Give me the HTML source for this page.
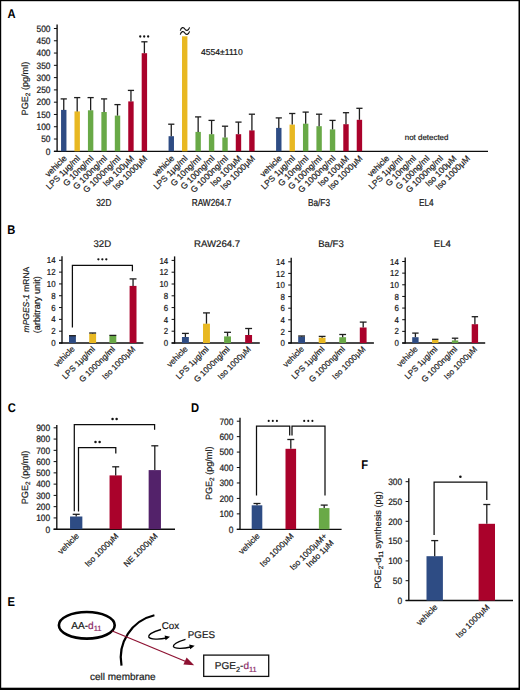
<!DOCTYPE html>
<html><head><meta charset="utf-8"><style>
html,body{margin:0;padding:0;background:#fff;}
svg{display:block;font-family:"Liberation Sans", sans-serif;text-rendering:geometricPrecision;}
</style></head><body>
<svg width="520" height="690" viewBox="0 0 520 690">
<rect x="0" y="0" width="520" height="690" fill="#fff"/>
<text transform="translate(7.60 17.50) scale(1 1.13)" font-size="11.2" font-weight="bold" fill="#000">A</text>
<line x1="57.10" y1="24.60" x2="57.10" y2="151.90" stroke="#0d0d0d" stroke-width="1.35"/>
<line x1="53.90" y1="151.30" x2="57.10" y2="151.30" stroke="#0d0d0d" stroke-width="1.0"/>
<text transform="translate(50.50 154.61) scale(1.0 1.1)" font-size="8.4" text-anchor="end" font-weight="normal" fill="#1a1a1a" stroke="#1a1a1a" stroke-width="0.2">0</text>
<line x1="53.90" y1="139.02" x2="57.10" y2="139.02" stroke="#0d0d0d" stroke-width="1.0"/>
<text transform="translate(50.50 142.33) scale(1.0 1.1)" font-size="8.4" text-anchor="end" font-weight="normal" fill="#1a1a1a" stroke="#1a1a1a" stroke-width="0.2">50</text>
<line x1="53.90" y1="126.74" x2="57.10" y2="126.74" stroke="#0d0d0d" stroke-width="1.0"/>
<text transform="translate(50.50 130.05) scale(1.0 1.1)" font-size="8.4" text-anchor="end" font-weight="normal" fill="#1a1a1a" stroke="#1a1a1a" stroke-width="0.2">100</text>
<line x1="53.90" y1="114.46" x2="57.10" y2="114.46" stroke="#0d0d0d" stroke-width="1.0"/>
<text transform="translate(50.50 117.77) scale(1.0 1.1)" font-size="8.4" text-anchor="end" font-weight="normal" fill="#1a1a1a" stroke="#1a1a1a" stroke-width="0.2">150</text>
<line x1="53.90" y1="102.18" x2="57.10" y2="102.18" stroke="#0d0d0d" stroke-width="1.0"/>
<text transform="translate(50.50 105.49) scale(1.0 1.1)" font-size="8.4" text-anchor="end" font-weight="normal" fill="#1a1a1a" stroke="#1a1a1a" stroke-width="0.2">200</text>
<line x1="53.90" y1="89.90" x2="57.10" y2="89.90" stroke="#0d0d0d" stroke-width="1.0"/>
<text transform="translate(50.50 93.21) scale(1.0 1.1)" font-size="8.4" text-anchor="end" font-weight="normal" fill="#1a1a1a" stroke="#1a1a1a" stroke-width="0.2">250</text>
<line x1="53.90" y1="77.62" x2="57.10" y2="77.62" stroke="#0d0d0d" stroke-width="1.0"/>
<text transform="translate(50.50 80.93) scale(1.0 1.1)" font-size="8.4" text-anchor="end" font-weight="normal" fill="#1a1a1a" stroke="#1a1a1a" stroke-width="0.2">300</text>
<line x1="53.90" y1="65.34" x2="57.10" y2="65.34" stroke="#0d0d0d" stroke-width="1.0"/>
<text transform="translate(50.50 68.65) scale(1.0 1.1)" font-size="8.4" text-anchor="end" font-weight="normal" fill="#1a1a1a" stroke="#1a1a1a" stroke-width="0.2">350</text>
<line x1="53.90" y1="53.06" x2="57.10" y2="53.06" stroke="#0d0d0d" stroke-width="1.0"/>
<text transform="translate(50.50 56.37) scale(1.0 1.1)" font-size="8.4" text-anchor="end" font-weight="normal" fill="#1a1a1a" stroke="#1a1a1a" stroke-width="0.2">400</text>
<line x1="53.90" y1="40.78" x2="57.10" y2="40.78" stroke="#0d0d0d" stroke-width="1.0"/>
<text transform="translate(50.50 44.09) scale(1.0 1.1)" font-size="8.4" text-anchor="end" font-weight="normal" fill="#1a1a1a" stroke="#1a1a1a" stroke-width="0.2">450</text>
<line x1="53.90" y1="28.50" x2="57.10" y2="28.50" stroke="#0d0d0d" stroke-width="1.0"/>
<text transform="translate(50.50 31.81) scale(1.0 1.1)" font-size="8.4" text-anchor="end" font-weight="normal" fill="#1a1a1a" stroke="#1a1a1a" stroke-width="0.2">500</text>
<line x1="53.90" y1="151.30" x2="488.00" y2="151.30" stroke="#0d0d0d" stroke-width="1.35"/>
<text x="27.60" y="88.60" font-size="9.1" text-anchor="middle" font-weight="normal" fill="#1a1a1a" stroke="#1a1a1a" stroke-width="0.2" transform="rotate(-90 27.60 88.60)">PGE<tspan font-size="6.4" dy="2">2</tspan><tspan dy="-2"> (pg/ml)</tspan></text>
<rect x="61.05" y="109.90" width="5.40" height="41.40" fill="#2e4c84"/>
<line x1="63.75" y1="109.90" x2="63.75" y2="98.90" stroke="#1e1e1e" stroke-width="1.3"/>
<line x1="60.65" y1="98.90" x2="66.85" y2="98.90" stroke="#1e1e1e" stroke-width="1.3"/>
<text x="67.25" y="158.90" font-size="8.5" text-anchor="end" font-weight="normal" fill="#1a1a1a" stroke="#1a1a1a" stroke-width="0.2" transform="rotate(-45 67.25 158.90)">vehicle</text>
<rect x="74.49" y="111.40" width="5.40" height="39.90" fill="#e8b822"/>
<line x1="77.19" y1="111.40" x2="77.19" y2="97.60" stroke="#1e1e1e" stroke-width="1.3"/>
<line x1="74.09" y1="97.60" x2="80.29" y2="97.60" stroke="#1e1e1e" stroke-width="1.3"/>
<text x="80.69" y="158.90" font-size="8.5" text-anchor="end" font-weight="normal" fill="#1a1a1a" stroke="#1a1a1a" stroke-width="0.2" transform="rotate(-45 80.69 158.90)">LPS 1&#956;g/ml</text>
<rect x="87.93" y="110.30" width="5.40" height="41.00" fill="#69a947"/>
<line x1="90.63" y1="110.30" x2="90.63" y2="97.60" stroke="#1e1e1e" stroke-width="1.3"/>
<line x1="87.53" y1="97.60" x2="93.73" y2="97.60" stroke="#1e1e1e" stroke-width="1.3"/>
<text x="94.13" y="158.90" font-size="8.5" text-anchor="end" font-weight="normal" fill="#1a1a1a" stroke="#1a1a1a" stroke-width="0.2" transform="rotate(-45 94.13 158.90)">G 10ng/ml</text>
<rect x="101.37" y="112.00" width="5.40" height="39.30" fill="#69a947"/>
<line x1="104.07" y1="112.00" x2="104.07" y2="98.90" stroke="#1e1e1e" stroke-width="1.3"/>
<line x1="100.97" y1="98.90" x2="107.17" y2="98.90" stroke="#1e1e1e" stroke-width="1.3"/>
<text x="107.57" y="158.90" font-size="8.5" text-anchor="end" font-weight="normal" fill="#1a1a1a" stroke="#1a1a1a" stroke-width="0.2" transform="rotate(-45 107.57 158.90)">G 100ng/ml</text>
<rect x="114.81" y="115.60" width="5.40" height="35.70" fill="#69a947"/>
<line x1="117.51" y1="115.60" x2="117.51" y2="104.60" stroke="#1e1e1e" stroke-width="1.3"/>
<line x1="114.41" y1="104.60" x2="120.61" y2="104.60" stroke="#1e1e1e" stroke-width="1.3"/>
<text x="121.01" y="158.90" font-size="8.5" text-anchor="end" font-weight="normal" fill="#1a1a1a" stroke="#1a1a1a" stroke-width="0.2" transform="rotate(-45 121.01 158.90)">G 1000ng/ml</text>
<rect x="128.25" y="101.40" width="5.40" height="49.90" fill="#aa022b"/>
<line x1="130.95" y1="101.40" x2="130.95" y2="90.40" stroke="#1e1e1e" stroke-width="1.3"/>
<line x1="127.85" y1="90.40" x2="134.05" y2="90.40" stroke="#1e1e1e" stroke-width="1.3"/>
<text x="134.45" y="158.90" font-size="8.5" text-anchor="end" font-weight="normal" fill="#1a1a1a" stroke="#1a1a1a" stroke-width="0.2" transform="rotate(-45 134.45 158.90)">Iso 100&#956;M</text>
<rect x="141.69" y="53.20" width="5.40" height="98.10" fill="#aa022b"/>
<line x1="144.39" y1="53.20" x2="144.39" y2="41.80" stroke="#1e1e1e" stroke-width="1.3"/>
<line x1="141.29" y1="41.80" x2="147.49" y2="41.80" stroke="#1e1e1e" stroke-width="1.3"/>
<text x="147.89" y="158.90" font-size="8.5" text-anchor="end" font-weight="normal" fill="#1a1a1a" stroke="#1a1a1a" stroke-width="0.2" transform="rotate(-45 147.89 158.90)">Iso 1000&#956;M</text>
<rect x="168.57" y="136.20" width="5.40" height="15.10" fill="#2e4c84"/>
<line x1="171.27" y1="136.20" x2="171.27" y2="124.20" stroke="#1e1e1e" stroke-width="1.3"/>
<line x1="168.17" y1="124.20" x2="174.37" y2="124.20" stroke="#1e1e1e" stroke-width="1.3"/>
<text x="174.77" y="158.90" font-size="8.5" text-anchor="end" font-weight="normal" fill="#1a1a1a" stroke="#1a1a1a" stroke-width="0.2" transform="rotate(-45 174.77 158.90)">vehicle</text>
<rect x="182.01" y="36.30" width="5.40" height="115.00" fill="#e8b822"/>
<text x="188.21" y="158.90" font-size="8.5" text-anchor="end" font-weight="normal" fill="#1a1a1a" stroke="#1a1a1a" stroke-width="0.2" transform="rotate(-45 188.21 158.90)">LPS 1&#956;g/ml</text>
<rect x="195.45" y="131.90" width="5.40" height="19.40" fill="#69a947"/>
<line x1="198.15" y1="131.90" x2="198.15" y2="116.90" stroke="#1e1e1e" stroke-width="1.3"/>
<line x1="195.05" y1="116.90" x2="201.25" y2="116.90" stroke="#1e1e1e" stroke-width="1.3"/>
<text x="201.65" y="158.90" font-size="8.5" text-anchor="end" font-weight="normal" fill="#1a1a1a" stroke="#1a1a1a" stroke-width="0.2" transform="rotate(-45 201.65 158.90)">G 10ng/ml</text>
<rect x="208.89" y="134.20" width="5.40" height="17.10" fill="#69a947"/>
<line x1="211.59" y1="134.20" x2="211.59" y2="120.40" stroke="#1e1e1e" stroke-width="1.3"/>
<line x1="208.49" y1="120.40" x2="214.69" y2="120.40" stroke="#1e1e1e" stroke-width="1.3"/>
<text x="215.09" y="158.90" font-size="8.5" text-anchor="end" font-weight="normal" fill="#1a1a1a" stroke="#1a1a1a" stroke-width="0.2" transform="rotate(-45 215.09 158.90)">G 100ng/ml</text>
<rect x="222.33" y="137.50" width="5.40" height="13.80" fill="#69a947"/>
<line x1="225.03" y1="137.50" x2="225.03" y2="126.20" stroke="#1e1e1e" stroke-width="1.3"/>
<line x1="221.93" y1="126.20" x2="228.13" y2="126.20" stroke="#1e1e1e" stroke-width="1.3"/>
<text x="228.53" y="158.90" font-size="8.5" text-anchor="end" font-weight="normal" fill="#1a1a1a" stroke="#1a1a1a" stroke-width="0.2" transform="rotate(-45 228.53 158.90)">G 1000ng/ml</text>
<rect x="235.77" y="134.20" width="5.40" height="17.10" fill="#aa022b"/>
<line x1="238.47" y1="134.20" x2="238.47" y2="122.10" stroke="#1e1e1e" stroke-width="1.3"/>
<line x1="235.37" y1="122.10" x2="241.57" y2="122.10" stroke="#1e1e1e" stroke-width="1.3"/>
<text x="241.97" y="158.90" font-size="8.5" text-anchor="end" font-weight="normal" fill="#1a1a1a" stroke="#1a1a1a" stroke-width="0.2" transform="rotate(-45 241.97 158.90)">Iso 100&#956;M</text>
<rect x="249.21" y="130.40" width="5.40" height="20.90" fill="#aa022b"/>
<line x1="251.91" y1="130.40" x2="251.91" y2="114.20" stroke="#1e1e1e" stroke-width="1.3"/>
<line x1="248.81" y1="114.20" x2="255.01" y2="114.20" stroke="#1e1e1e" stroke-width="1.3"/>
<text x="255.41" y="158.90" font-size="8.5" text-anchor="end" font-weight="normal" fill="#1a1a1a" stroke="#1a1a1a" stroke-width="0.2" transform="rotate(-45 255.41 158.90)">Iso 1000&#956;M</text>
<rect x="276.09" y="127.90" width="5.40" height="23.40" fill="#2e4c84"/>
<line x1="278.79" y1="127.90" x2="278.79" y2="117.90" stroke="#1e1e1e" stroke-width="1.3"/>
<line x1="275.69" y1="117.90" x2="281.89" y2="117.90" stroke="#1e1e1e" stroke-width="1.3"/>
<text x="282.29" y="158.90" font-size="8.5" text-anchor="end" font-weight="normal" fill="#1a1a1a" stroke="#1a1a1a" stroke-width="0.2" transform="rotate(-45 282.29 158.90)">vehicle</text>
<rect x="289.53" y="124.60" width="5.40" height="26.70" fill="#e8b822"/>
<line x1="292.23" y1="124.60" x2="292.23" y2="113.50" stroke="#1e1e1e" stroke-width="1.3"/>
<line x1="289.13" y1="113.50" x2="295.33" y2="113.50" stroke="#1e1e1e" stroke-width="1.3"/>
<text x="295.73" y="158.90" font-size="8.5" text-anchor="end" font-weight="normal" fill="#1a1a1a" stroke="#1a1a1a" stroke-width="0.2" transform="rotate(-45 295.73 158.90)">LPS 1&#956;g/ml</text>
<rect x="302.97" y="123.70" width="5.40" height="27.60" fill="#69a947"/>
<line x1="305.67" y1="123.70" x2="305.67" y2="112.10" stroke="#1e1e1e" stroke-width="1.3"/>
<line x1="302.57" y1="112.10" x2="308.77" y2="112.10" stroke="#1e1e1e" stroke-width="1.3"/>
<text x="309.17" y="158.90" font-size="8.5" text-anchor="end" font-weight="normal" fill="#1a1a1a" stroke="#1a1a1a" stroke-width="0.2" transform="rotate(-45 309.17 158.90)">G 10ng/ml</text>
<rect x="316.41" y="126.20" width="5.40" height="25.10" fill="#69a947"/>
<line x1="319.11" y1="126.20" x2="319.11" y2="114.20" stroke="#1e1e1e" stroke-width="1.3"/>
<line x1="316.01" y1="114.20" x2="322.21" y2="114.20" stroke="#1e1e1e" stroke-width="1.3"/>
<text x="322.61" y="158.90" font-size="8.5" text-anchor="end" font-weight="normal" fill="#1a1a1a" stroke="#1a1a1a" stroke-width="0.2" transform="rotate(-45 322.61 158.90)">G 100ng/ml</text>
<rect x="329.85" y="129.40" width="5.40" height="21.90" fill="#69a947"/>
<line x1="332.55" y1="129.40" x2="332.55" y2="120.40" stroke="#1e1e1e" stroke-width="1.3"/>
<line x1="329.45" y1="120.40" x2="335.65" y2="120.40" stroke="#1e1e1e" stroke-width="1.3"/>
<text x="336.05" y="158.90" font-size="8.5" text-anchor="end" font-weight="normal" fill="#1a1a1a" stroke="#1a1a1a" stroke-width="0.2" transform="rotate(-45 336.05 158.90)">G 1000ng/ml</text>
<rect x="343.29" y="124.20" width="5.40" height="27.10" fill="#aa022b"/>
<line x1="345.99" y1="124.20" x2="345.99" y2="112.70" stroke="#1e1e1e" stroke-width="1.3"/>
<line x1="342.89" y1="112.70" x2="349.09" y2="112.70" stroke="#1e1e1e" stroke-width="1.3"/>
<text x="349.49" y="158.90" font-size="8.5" text-anchor="end" font-weight="normal" fill="#1a1a1a" stroke="#1a1a1a" stroke-width="0.2" transform="rotate(-45 349.49 158.90)">Iso 100&#956;M</text>
<rect x="356.73" y="119.80" width="5.40" height="31.50" fill="#aa022b"/>
<line x1="359.43" y1="119.80" x2="359.43" y2="108.30" stroke="#1e1e1e" stroke-width="1.3"/>
<line x1="356.33" y1="108.30" x2="362.53" y2="108.30" stroke="#1e1e1e" stroke-width="1.3"/>
<text x="362.93" y="158.90" font-size="8.5" text-anchor="end" font-weight="normal" fill="#1a1a1a" stroke="#1a1a1a" stroke-width="0.2" transform="rotate(-45 362.93 158.90)">Iso 1000&#956;M</text>
<text x="389.81" y="158.90" font-size="8.5" text-anchor="end" font-weight="normal" fill="#1a1a1a" stroke="#1a1a1a" stroke-width="0.2" transform="rotate(-45 389.81 158.90)">vehicle</text>
<text x="403.25" y="158.90" font-size="8.5" text-anchor="end" font-weight="normal" fill="#1a1a1a" stroke="#1a1a1a" stroke-width="0.2" transform="rotate(-45 403.25 158.90)">LPS 1&#956;g/ml</text>
<text x="416.69" y="158.90" font-size="8.5" text-anchor="end" font-weight="normal" fill="#1a1a1a" stroke="#1a1a1a" stroke-width="0.2" transform="rotate(-45 416.69 158.90)">G 10ng/ml</text>
<text x="430.13" y="158.90" font-size="8.5" text-anchor="end" font-weight="normal" fill="#1a1a1a" stroke="#1a1a1a" stroke-width="0.2" transform="rotate(-45 430.13 158.90)">G 100ng/ml</text>
<text x="443.57" y="158.90" font-size="8.5" text-anchor="end" font-weight="normal" fill="#1a1a1a" stroke="#1a1a1a" stroke-width="0.2" transform="rotate(-45 443.57 158.90)">G 1000ng/ml</text>
<text x="457.01" y="158.90" font-size="8.5" text-anchor="end" font-weight="normal" fill="#1a1a1a" stroke="#1a1a1a" stroke-width="0.2" transform="rotate(-45 457.01 158.90)">Iso 100&#956;M</text>
<text x="470.45" y="158.90" font-size="8.5" text-anchor="end" font-weight="normal" fill="#1a1a1a" stroke="#1a1a1a" stroke-width="0.2" transform="rotate(-45 470.45 158.90)">Iso 1000&#956;M</text>
<text transform="translate(103.80 205.7) scale(0.96 1.17)" font-size="8.6" text-anchor="middle" fill="#1a1a1a" stroke="#1a1a1a" stroke-width="0.2">32D</text>
<text transform="translate(211.50 205.7) scale(0.96 1.17)" font-size="8.6" text-anchor="middle" fill="#1a1a1a" stroke="#1a1a1a" stroke-width="0.2">RAW264.7</text>
<text transform="translate(319.00 205.7) scale(0.96 1.17)" font-size="8.6" text-anchor="middle" fill="#1a1a1a" stroke="#1a1a1a" stroke-width="0.2">Ba/F3</text>
<text transform="translate(426.30 205.7) scale(0.96 1.17)" font-size="8.6" text-anchor="middle" fill="#1a1a1a" stroke="#1a1a1a" stroke-width="0.2">EL4</text>
<circle cx="140.25" cy="36.50" r="1.15" fill="#111"/>
<circle cx="144.20" cy="36.50" r="1.15" fill="#111"/>
<circle cx="148.15" cy="36.50" r="1.15" fill="#111"/>
<path d="M180.3 30.6 C181.3 27.0 183.6 26.8 184.8 29.0 C186.0 31.2 188.4 31.0 189.6 27.4 M180.3 34.6 C181.3 31.0 183.6 30.8 184.8 33.0 C186.0 35.2 188.4 35.0 189.6 31.4" fill="none" stroke="#111" stroke-width="1.15"/>
<text x="201.00" y="54.80" font-size="8.6" text-anchor="start" font-weight="normal" fill="#1a1a1a" stroke="#1a1a1a" stroke-width="0.2">4554&#177;1110</text>
<text x="426.60" y="140.00" font-size="7.95" text-anchor="middle" font-weight="normal" fill="#1a1a1a" stroke="#1a1a1a" stroke-width="0.2">not detected</text>
<text transform="translate(7.30 233.60) scale(1 1.13)" font-size="11.2" font-weight="bold" fill="#000">B</text>
<line x1="62.00" y1="256.30" x2="62.00" y2="343.60" stroke="#0d0d0d" stroke-width="1.35"/>
<line x1="59.00" y1="343.00" x2="62.00" y2="343.00" stroke="#0d0d0d" stroke-width="1.0"/>
<text transform="translate(55.60 346.11) scale(1.0 1.1)" font-size="7.9" text-anchor="end" font-weight="normal" fill="#1a1a1a" stroke="#1a1a1a" stroke-width="0.2">0</text>
<line x1="59.00" y1="331.19" x2="62.00" y2="331.19" stroke="#0d0d0d" stroke-width="1.0"/>
<text transform="translate(55.60 334.30) scale(1.0 1.1)" font-size="7.9" text-anchor="end" font-weight="normal" fill="#1a1a1a" stroke="#1a1a1a" stroke-width="0.2">2</text>
<line x1="59.00" y1="319.37" x2="62.00" y2="319.37" stroke="#0d0d0d" stroke-width="1.0"/>
<text transform="translate(55.60 322.48) scale(1.0 1.1)" font-size="7.9" text-anchor="end" font-weight="normal" fill="#1a1a1a" stroke="#1a1a1a" stroke-width="0.2">4</text>
<line x1="59.00" y1="307.56" x2="62.00" y2="307.56" stroke="#0d0d0d" stroke-width="1.0"/>
<text transform="translate(55.60 310.67) scale(1.0 1.1)" font-size="7.9" text-anchor="end" font-weight="normal" fill="#1a1a1a" stroke="#1a1a1a" stroke-width="0.2">6</text>
<line x1="59.00" y1="295.74" x2="62.00" y2="295.74" stroke="#0d0d0d" stroke-width="1.0"/>
<text transform="translate(55.60 298.85) scale(1.0 1.1)" font-size="7.9" text-anchor="end" font-weight="normal" fill="#1a1a1a" stroke="#1a1a1a" stroke-width="0.2">8</text>
<line x1="59.00" y1="283.93" x2="62.00" y2="283.93" stroke="#0d0d0d" stroke-width="1.0"/>
<text transform="translate(55.60 287.04) scale(1.0 1.1)" font-size="7.9" text-anchor="end" font-weight="normal" fill="#1a1a1a" stroke="#1a1a1a" stroke-width="0.2">10</text>
<line x1="59.00" y1="272.11" x2="62.00" y2="272.11" stroke="#0d0d0d" stroke-width="1.0"/>
<text transform="translate(55.60 275.23) scale(1.0 1.1)" font-size="7.9" text-anchor="end" font-weight="normal" fill="#1a1a1a" stroke="#1a1a1a" stroke-width="0.2">12</text>
<line x1="59.00" y1="260.30" x2="62.00" y2="260.30" stroke="#0d0d0d" stroke-width="1.0"/>
<text transform="translate(55.60 263.41) scale(1.0 1.1)" font-size="7.9" text-anchor="end" font-weight="normal" fill="#1a1a1a" stroke="#1a1a1a" stroke-width="0.2">14</text>
<line x1="59.00" y1="343.00" x2="143.40" y2="343.00" stroke="#0d0d0d" stroke-width="1.35"/>
<text x="102.30" y="247.40" font-size="9.6" text-anchor="middle" font-weight="normal" fill="#1a1a1a" stroke="#1a1a1a" stroke-width="0.2">32D</text>
<rect x="69.00" y="335.70" width="6.90" height="7.30" fill="#2e4c84"/>
<line x1="72.45" y1="335.70" x2="72.45" y2="335.70" stroke="#1e1e1e" stroke-width="1.3"/>
<line x1="69.00" y1="335.70" x2="75.90" y2="335.70" stroke="#1e1e1e" stroke-width="1.3"/>
<text x="75.25" y="349.60" font-size="8.2" text-anchor="end" font-weight="normal" fill="#1a1a1a" stroke="#1a1a1a" stroke-width="0.2" transform="rotate(-45 75.25 349.60)">vehicle</text>
<rect x="89.20" y="333.50" width="6.90" height="9.50" fill="#e8b822"/>
<line x1="92.65" y1="333.50" x2="92.65" y2="333.00" stroke="#1e1e1e" stroke-width="1.3"/>
<line x1="89.20" y1="333.00" x2="96.10" y2="333.00" stroke="#1e1e1e" stroke-width="1.3"/>
<text x="95.45" y="349.60" font-size="8.2" text-anchor="end" font-weight="normal" fill="#1a1a1a" stroke="#1a1a1a" stroke-width="0.2" transform="rotate(-45 95.45 349.60)">LPS 1&#956;g/ml</text>
<rect x="109.40" y="335.40" width="6.90" height="7.60" fill="#69a947"/>
<line x1="112.85" y1="335.40" x2="112.85" y2="335.40" stroke="#1e1e1e" stroke-width="1.3"/>
<line x1="109.40" y1="335.40" x2="116.30" y2="335.40" stroke="#1e1e1e" stroke-width="1.3"/>
<text x="115.65" y="349.60" font-size="8.2" text-anchor="end" font-weight="normal" fill="#1a1a1a" stroke="#1a1a1a" stroke-width="0.2" transform="rotate(-45 115.65 349.60)">G 1000ng/ml</text>
<rect x="129.60" y="285.90" width="6.90" height="57.10" fill="#aa022b"/>
<line x1="133.05" y1="285.90" x2="133.05" y2="278.90" stroke="#1e1e1e" stroke-width="1.3"/>
<line x1="129.60" y1="278.90" x2="136.50" y2="278.90" stroke="#1e1e1e" stroke-width="1.3"/>
<text x="135.85" y="349.60" font-size="8.2" text-anchor="end" font-weight="normal" fill="#1a1a1a" stroke="#1a1a1a" stroke-width="0.2" transform="rotate(-45 135.85 349.60)">Iso 1000&#956;M</text>
<line x1="174.60" y1="256.40" x2="174.60" y2="343.60" stroke="#0d0d0d" stroke-width="1.35"/>
<line x1="171.60" y1="343.00" x2="174.60" y2="343.00" stroke="#0d0d0d" stroke-width="1.0"/>
<text transform="translate(168.20 346.11) scale(1.0 1.1)" font-size="7.9" text-anchor="end" font-weight="normal" fill="#1a1a1a" stroke="#1a1a1a" stroke-width="0.2">0</text>
<line x1="171.60" y1="331.20" x2="174.60" y2="331.20" stroke="#0d0d0d" stroke-width="1.0"/>
<text transform="translate(168.20 334.31) scale(1.0 1.1)" font-size="7.9" text-anchor="end" font-weight="normal" fill="#1a1a1a" stroke="#1a1a1a" stroke-width="0.2">2</text>
<line x1="171.60" y1="319.40" x2="174.60" y2="319.40" stroke="#0d0d0d" stroke-width="1.0"/>
<text transform="translate(168.20 322.51) scale(1.0 1.1)" font-size="7.9" text-anchor="end" font-weight="normal" fill="#1a1a1a" stroke="#1a1a1a" stroke-width="0.2">4</text>
<line x1="171.60" y1="307.60" x2="174.60" y2="307.60" stroke="#0d0d0d" stroke-width="1.0"/>
<text transform="translate(168.20 310.71) scale(1.0 1.1)" font-size="7.9" text-anchor="end" font-weight="normal" fill="#1a1a1a" stroke="#1a1a1a" stroke-width="0.2">6</text>
<line x1="171.60" y1="295.80" x2="174.60" y2="295.80" stroke="#0d0d0d" stroke-width="1.0"/>
<text transform="translate(168.20 298.91) scale(1.0 1.1)" font-size="7.9" text-anchor="end" font-weight="normal" fill="#1a1a1a" stroke="#1a1a1a" stroke-width="0.2">8</text>
<line x1="171.60" y1="284.00" x2="174.60" y2="284.00" stroke="#0d0d0d" stroke-width="1.0"/>
<text transform="translate(168.20 287.11) scale(1.0 1.1)" font-size="7.9" text-anchor="end" font-weight="normal" fill="#1a1a1a" stroke="#1a1a1a" stroke-width="0.2">10</text>
<line x1="171.60" y1="272.20" x2="174.60" y2="272.20" stroke="#0d0d0d" stroke-width="1.0"/>
<text transform="translate(168.20 275.31) scale(1.0 1.1)" font-size="7.9" text-anchor="end" font-weight="normal" fill="#1a1a1a" stroke="#1a1a1a" stroke-width="0.2">12</text>
<line x1="171.60" y1="260.40" x2="174.60" y2="260.40" stroke="#0d0d0d" stroke-width="1.0"/>
<text transform="translate(168.20 263.51) scale(1.0 1.1)" font-size="7.9" text-anchor="end" font-weight="normal" fill="#1a1a1a" stroke="#1a1a1a" stroke-width="0.2">14</text>
<line x1="171.60" y1="343.00" x2="259.80" y2="343.00" stroke="#0d0d0d" stroke-width="1.35"/>
<text x="217.10" y="247.40" font-size="9.6" text-anchor="middle" font-weight="normal" fill="#1a1a1a" stroke="#1a1a1a" stroke-width="0.2">RAW264.7</text>
<rect x="181.95" y="337.00" width="6.90" height="6.00" fill="#2e4c84"/>
<line x1="185.40" y1="337.00" x2="185.40" y2="333.40" stroke="#1e1e1e" stroke-width="1.3"/>
<line x1="181.95" y1="333.40" x2="188.85" y2="333.40" stroke="#1e1e1e" stroke-width="1.3"/>
<text x="188.20" y="349.60" font-size="8.2" text-anchor="end" font-weight="normal" fill="#1a1a1a" stroke="#1a1a1a" stroke-width="0.2" transform="rotate(-45 188.20 349.60)">vehicle</text>
<rect x="203.02" y="323.70" width="6.90" height="19.30" fill="#e8b822"/>
<line x1="206.47" y1="323.70" x2="206.47" y2="312.90" stroke="#1e1e1e" stroke-width="1.3"/>
<line x1="203.02" y1="312.90" x2="209.92" y2="312.90" stroke="#1e1e1e" stroke-width="1.3"/>
<text x="209.27" y="349.60" font-size="8.2" text-anchor="end" font-weight="normal" fill="#1a1a1a" stroke="#1a1a1a" stroke-width="0.2" transform="rotate(-45 209.27 349.60)">LPS 1&#956;g/ml</text>
<rect x="224.09" y="336.40" width="6.90" height="6.60" fill="#69a947"/>
<line x1="227.54" y1="336.40" x2="227.54" y2="332.30" stroke="#1e1e1e" stroke-width="1.3"/>
<line x1="224.09" y1="332.30" x2="230.99" y2="332.30" stroke="#1e1e1e" stroke-width="1.3"/>
<text x="230.34" y="349.60" font-size="8.2" text-anchor="end" font-weight="normal" fill="#1a1a1a" stroke="#1a1a1a" stroke-width="0.2" transform="rotate(-45 230.34 349.60)">G 1000ng/ml</text>
<rect x="245.16" y="335.00" width="6.90" height="8.00" fill="#aa022b"/>
<line x1="248.61" y1="335.00" x2="248.61" y2="328.50" stroke="#1e1e1e" stroke-width="1.3"/>
<line x1="245.16" y1="328.50" x2="252.06" y2="328.50" stroke="#1e1e1e" stroke-width="1.3"/>
<text x="251.41" y="349.60" font-size="8.2" text-anchor="end" font-weight="normal" fill="#1a1a1a" stroke="#1a1a1a" stroke-width="0.2" transform="rotate(-45 251.41 349.60)">Iso 1000&#956;M</text>
<line x1="291.20" y1="257.80" x2="291.20" y2="343.60" stroke="#0d0d0d" stroke-width="1.35"/>
<line x1="288.20" y1="343.00" x2="291.20" y2="343.00" stroke="#0d0d0d" stroke-width="1.0"/>
<text transform="translate(284.80 346.11) scale(1.0 1.1)" font-size="7.9" text-anchor="end" font-weight="normal" fill="#1a1a1a" stroke="#1a1a1a" stroke-width="0.2">0</text>
<line x1="288.20" y1="331.40" x2="291.20" y2="331.40" stroke="#0d0d0d" stroke-width="1.0"/>
<text transform="translate(284.80 334.51) scale(1.0 1.1)" font-size="7.9" text-anchor="end" font-weight="normal" fill="#1a1a1a" stroke="#1a1a1a" stroke-width="0.2">2</text>
<line x1="288.20" y1="319.80" x2="291.20" y2="319.80" stroke="#0d0d0d" stroke-width="1.0"/>
<text transform="translate(284.80 322.91) scale(1.0 1.1)" font-size="7.9" text-anchor="end" font-weight="normal" fill="#1a1a1a" stroke="#1a1a1a" stroke-width="0.2">4</text>
<line x1="288.20" y1="308.20" x2="291.20" y2="308.20" stroke="#0d0d0d" stroke-width="1.0"/>
<text transform="translate(284.80 311.31) scale(1.0 1.1)" font-size="7.9" text-anchor="end" font-weight="normal" fill="#1a1a1a" stroke="#1a1a1a" stroke-width="0.2">6</text>
<line x1="288.20" y1="296.60" x2="291.20" y2="296.60" stroke="#0d0d0d" stroke-width="1.0"/>
<text transform="translate(284.80 299.71) scale(1.0 1.1)" font-size="7.9" text-anchor="end" font-weight="normal" fill="#1a1a1a" stroke="#1a1a1a" stroke-width="0.2">8</text>
<line x1="288.20" y1="285.00" x2="291.20" y2="285.00" stroke="#0d0d0d" stroke-width="1.0"/>
<text transform="translate(284.80 288.11) scale(1.0 1.1)" font-size="7.9" text-anchor="end" font-weight="normal" fill="#1a1a1a" stroke="#1a1a1a" stroke-width="0.2">10</text>
<line x1="288.20" y1="273.40" x2="291.20" y2="273.40" stroke="#0d0d0d" stroke-width="1.0"/>
<text transform="translate(284.80 276.51) scale(1.0 1.1)" font-size="7.9" text-anchor="end" font-weight="normal" fill="#1a1a1a" stroke="#1a1a1a" stroke-width="0.2">12</text>
<line x1="288.20" y1="261.80" x2="291.20" y2="261.80" stroke="#0d0d0d" stroke-width="1.0"/>
<text transform="translate(284.80 264.91) scale(1.0 1.1)" font-size="7.9" text-anchor="end" font-weight="normal" fill="#1a1a1a" stroke="#1a1a1a" stroke-width="0.2">14</text>
<line x1="288.20" y1="343.00" x2="373.90" y2="343.00" stroke="#0d0d0d" stroke-width="1.35"/>
<text x="331.00" y="247.40" font-size="9.6" text-anchor="middle" font-weight="normal" fill="#1a1a1a" stroke="#1a1a1a" stroke-width="0.2">Ba/F3</text>
<rect x="298.20" y="336.60" width="6.80" height="6.40" fill="#2e4c84"/>
<line x1="301.60" y1="336.60" x2="301.60" y2="336.00" stroke="#1e1e1e" stroke-width="1.3"/>
<line x1="298.20" y1="336.00" x2="305.00" y2="336.00" stroke="#1e1e1e" stroke-width="1.3"/>
<text x="304.40" y="349.60" font-size="8.2" text-anchor="end" font-weight="normal" fill="#1a1a1a" stroke="#1a1a1a" stroke-width="0.2" transform="rotate(-45 304.40 349.60)">vehicle</text>
<rect x="318.73" y="337.70" width="6.80" height="5.30" fill="#e8b822"/>
<line x1="322.13" y1="337.70" x2="322.13" y2="336.40" stroke="#1e1e1e" stroke-width="1.3"/>
<line x1="318.73" y1="336.40" x2="325.53" y2="336.40" stroke="#1e1e1e" stroke-width="1.3"/>
<text x="324.93" y="349.60" font-size="8.2" text-anchor="end" font-weight="normal" fill="#1a1a1a" stroke="#1a1a1a" stroke-width="0.2" transform="rotate(-45 324.93 349.60)">LPS 1&#956;g/ml</text>
<rect x="339.26" y="337.20" width="6.80" height="5.80" fill="#69a947"/>
<line x1="342.66" y1="337.20" x2="342.66" y2="334.50" stroke="#1e1e1e" stroke-width="1.3"/>
<line x1="339.26" y1="334.50" x2="346.06" y2="334.50" stroke="#1e1e1e" stroke-width="1.3"/>
<text x="345.46" y="349.60" font-size="8.2" text-anchor="end" font-weight="normal" fill="#1a1a1a" stroke="#1a1a1a" stroke-width="0.2" transform="rotate(-45 345.46 349.60)">G 1000ng/ml</text>
<rect x="359.79" y="327.50" width="6.80" height="15.50" fill="#aa022b"/>
<line x1="363.19" y1="327.50" x2="363.19" y2="322.10" stroke="#1e1e1e" stroke-width="1.3"/>
<line x1="359.79" y1="322.10" x2="366.59" y2="322.10" stroke="#1e1e1e" stroke-width="1.3"/>
<text x="365.99" y="349.60" font-size="8.2" text-anchor="end" font-weight="normal" fill="#1a1a1a" stroke="#1a1a1a" stroke-width="0.2" transform="rotate(-45 365.99 349.60)">Iso 1000&#956;M</text>
<line x1="405.20" y1="257.50" x2="405.20" y2="343.60" stroke="#0d0d0d" stroke-width="1.35"/>
<line x1="402.20" y1="343.00" x2="405.20" y2="343.00" stroke="#0d0d0d" stroke-width="1.0"/>
<text transform="translate(398.80 346.11) scale(1.0 1.1)" font-size="7.9" text-anchor="end" font-weight="normal" fill="#1a1a1a" stroke="#1a1a1a" stroke-width="0.2">0</text>
<line x1="402.20" y1="331.36" x2="405.20" y2="331.36" stroke="#0d0d0d" stroke-width="1.0"/>
<text transform="translate(398.80 334.47) scale(1.0 1.1)" font-size="7.9" text-anchor="end" font-weight="normal" fill="#1a1a1a" stroke="#1a1a1a" stroke-width="0.2">2</text>
<line x1="402.20" y1="319.71" x2="405.20" y2="319.71" stroke="#0d0d0d" stroke-width="1.0"/>
<text transform="translate(398.80 322.83) scale(1.0 1.1)" font-size="7.9" text-anchor="end" font-weight="normal" fill="#1a1a1a" stroke="#1a1a1a" stroke-width="0.2">4</text>
<line x1="402.20" y1="308.07" x2="405.20" y2="308.07" stroke="#0d0d0d" stroke-width="1.0"/>
<text transform="translate(398.80 311.18) scale(1.0 1.1)" font-size="7.9" text-anchor="end" font-weight="normal" fill="#1a1a1a" stroke="#1a1a1a" stroke-width="0.2">6</text>
<line x1="402.20" y1="296.43" x2="405.20" y2="296.43" stroke="#0d0d0d" stroke-width="1.0"/>
<text transform="translate(398.80 299.54) scale(1.0 1.1)" font-size="7.9" text-anchor="end" font-weight="normal" fill="#1a1a1a" stroke="#1a1a1a" stroke-width="0.2">8</text>
<line x1="402.20" y1="284.79" x2="405.20" y2="284.79" stroke="#0d0d0d" stroke-width="1.0"/>
<text transform="translate(398.80 287.90) scale(1.0 1.1)" font-size="7.9" text-anchor="end" font-weight="normal" fill="#1a1a1a" stroke="#1a1a1a" stroke-width="0.2">10</text>
<line x1="402.20" y1="273.14" x2="405.20" y2="273.14" stroke="#0d0d0d" stroke-width="1.0"/>
<text transform="translate(398.80 276.25) scale(1.0 1.1)" font-size="7.9" text-anchor="end" font-weight="normal" fill="#1a1a1a" stroke="#1a1a1a" stroke-width="0.2">12</text>
<line x1="402.20" y1="261.50" x2="405.20" y2="261.50" stroke="#0d0d0d" stroke-width="1.0"/>
<text transform="translate(398.80 264.61) scale(1.0 1.1)" font-size="7.9" text-anchor="end" font-weight="normal" fill="#1a1a1a" stroke="#1a1a1a" stroke-width="0.2">14</text>
<line x1="402.20" y1="343.00" x2="485.20" y2="343.00" stroke="#0d0d0d" stroke-width="1.35"/>
<text x="442.30" y="247.40" font-size="9.6" text-anchor="middle" font-weight="normal" fill="#1a1a1a" stroke="#1a1a1a" stroke-width="0.2">EL4</text>
<rect x="412.20" y="337.20" width="6.40" height="5.80" fill="#2e4c84"/>
<line x1="415.40" y1="337.20" x2="415.40" y2="333.10" stroke="#1e1e1e" stroke-width="1.3"/>
<line x1="412.20" y1="333.10" x2="418.60" y2="333.10" stroke="#1e1e1e" stroke-width="1.3"/>
<text x="418.20" y="349.60" font-size="8.2" text-anchor="end" font-weight="normal" fill="#1a1a1a" stroke="#1a1a1a" stroke-width="0.2" transform="rotate(-45 418.20 349.60)">vehicle</text>
<rect x="432.03" y="339.90" width="6.40" height="3.10" fill="#e8b822"/>
<line x1="435.23" y1="339.90" x2="435.23" y2="339.30" stroke="#1e1e1e" stroke-width="1.3"/>
<line x1="432.03" y1="339.30" x2="438.43" y2="339.30" stroke="#1e1e1e" stroke-width="1.3"/>
<text x="438.03" y="349.60" font-size="8.2" text-anchor="end" font-weight="normal" fill="#1a1a1a" stroke="#1a1a1a" stroke-width="0.2" transform="rotate(-45 438.03 349.60)">LPS 1&#956;g/ml</text>
<rect x="451.86" y="340.40" width="6.40" height="2.60" fill="#69a947"/>
<line x1="455.06" y1="340.40" x2="455.06" y2="338.20" stroke="#1e1e1e" stroke-width="1.3"/>
<line x1="451.86" y1="338.20" x2="458.26" y2="338.20" stroke="#1e1e1e" stroke-width="1.3"/>
<text x="457.86" y="349.60" font-size="8.2" text-anchor="end" font-weight="normal" fill="#1a1a1a" stroke="#1a1a1a" stroke-width="0.2" transform="rotate(-45 457.86 349.60)">G 1000ng/ml</text>
<rect x="471.69" y="324.20" width="6.40" height="18.80" fill="#aa022b"/>
<line x1="474.89" y1="324.20" x2="474.89" y2="316.70" stroke="#1e1e1e" stroke-width="1.3"/>
<line x1="471.69" y1="316.70" x2="478.09" y2="316.70" stroke="#1e1e1e" stroke-width="1.3"/>
<text x="477.69" y="349.60" font-size="8.2" text-anchor="end" font-weight="normal" fill="#1a1a1a" stroke="#1a1a1a" stroke-width="0.2" transform="rotate(-45 477.69 349.60)">Iso 1000&#956;M</text>
<text x="29.40" y="332.40" font-size="8.5" text-anchor="start" font-weight="normal" fill="#1a1a1a" stroke="#1a1a1a" stroke-width="0.2" transform="rotate(-90 29.40 332.40)"><tspan font-style="italic">mPGES-1</tspan> mRNA</text>
<text x="39.90" y="333.30" font-size="9.2" text-anchor="start" font-weight="normal" fill="#1a1a1a" stroke="#1a1a1a" stroke-width="0.2" transform="rotate(-90 39.90 333.30)">(arbitrary unit)</text>
<polyline points="72.40,327.50 72.40,265.30 132.40,265.30 132.40,271.20" fill="none" stroke="#0d0d0d" stroke-width="1.25" stroke-linejoin="miter"/>
<circle cx="98.40" cy="259.30" r="1.15" fill="#111"/>
<circle cx="102.35" cy="259.30" r="1.15" fill="#111"/>
<circle cx="106.30" cy="259.30" r="1.15" fill="#111"/>
<text transform="translate(7.80 411.80) scale(1 1.13)" font-size="11.2" font-weight="bold" fill="#000">C</text>
<line x1="56.80" y1="425.00" x2="56.80" y2="529.80" stroke="#0d0d0d" stroke-width="1.35"/>
<line x1="53.60" y1="529.20" x2="56.80" y2="529.20" stroke="#0d0d0d" stroke-width="1.0"/>
<text transform="translate(50.20 532.51) scale(1.0 1.1)" font-size="8.4" text-anchor="end" font-weight="normal" fill="#1a1a1a" stroke="#1a1a1a" stroke-width="0.2">0</text>
<line x1="53.60" y1="517.93" x2="56.80" y2="517.93" stroke="#0d0d0d" stroke-width="1.0"/>
<text transform="translate(50.20 521.24) scale(1.0 1.1)" font-size="8.4" text-anchor="end" font-weight="normal" fill="#1a1a1a" stroke="#1a1a1a" stroke-width="0.2">100</text>
<line x1="53.60" y1="506.67" x2="56.80" y2="506.67" stroke="#0d0d0d" stroke-width="1.0"/>
<text transform="translate(50.20 509.97) scale(1.0 1.1)" font-size="8.4" text-anchor="end" font-weight="normal" fill="#1a1a1a" stroke="#1a1a1a" stroke-width="0.2">200</text>
<line x1="53.60" y1="495.40" x2="56.80" y2="495.40" stroke="#0d0d0d" stroke-width="1.0"/>
<text transform="translate(50.20 498.71) scale(1.0 1.1)" font-size="8.4" text-anchor="end" font-weight="normal" fill="#1a1a1a" stroke="#1a1a1a" stroke-width="0.2">300</text>
<line x1="53.60" y1="484.13" x2="56.80" y2="484.13" stroke="#0d0d0d" stroke-width="1.0"/>
<text transform="translate(50.20 487.44) scale(1.0 1.1)" font-size="8.4" text-anchor="end" font-weight="normal" fill="#1a1a1a" stroke="#1a1a1a" stroke-width="0.2">400</text>
<line x1="53.60" y1="472.87" x2="56.80" y2="472.87" stroke="#0d0d0d" stroke-width="1.0"/>
<text transform="translate(50.20 476.17) scale(1.0 1.1)" font-size="8.4" text-anchor="end" font-weight="normal" fill="#1a1a1a" stroke="#1a1a1a" stroke-width="0.2">500</text>
<line x1="53.60" y1="461.60" x2="56.80" y2="461.60" stroke="#0d0d0d" stroke-width="1.0"/>
<text transform="translate(50.20 464.91) scale(1.0 1.1)" font-size="8.4" text-anchor="end" font-weight="normal" fill="#1a1a1a" stroke="#1a1a1a" stroke-width="0.2">600</text>
<line x1="53.60" y1="450.33" x2="56.80" y2="450.33" stroke="#0d0d0d" stroke-width="1.0"/>
<text transform="translate(50.20 453.64) scale(1.0 1.1)" font-size="8.4" text-anchor="end" font-weight="normal" fill="#1a1a1a" stroke="#1a1a1a" stroke-width="0.2">700</text>
<line x1="53.60" y1="439.07" x2="56.80" y2="439.07" stroke="#0d0d0d" stroke-width="1.0"/>
<text transform="translate(50.20 442.37) scale(1.0 1.1)" font-size="8.4" text-anchor="end" font-weight="normal" fill="#1a1a1a" stroke="#1a1a1a" stroke-width="0.2">800</text>
<line x1="53.60" y1="427.80" x2="56.80" y2="427.80" stroke="#0d0d0d" stroke-width="1.0"/>
<text transform="translate(50.20 431.11) scale(1.0 1.1)" font-size="8.4" text-anchor="end" font-weight="normal" fill="#1a1a1a" stroke="#1a1a1a" stroke-width="0.2">900</text>
<line x1="53.60" y1="529.20" x2="175.00" y2="529.20" stroke="#0d0d0d" stroke-width="1.35"/>
<text x="27.70" y="477.40" font-size="9.1" text-anchor="middle" font-weight="normal" fill="#1a1a1a" stroke="#1a1a1a" stroke-width="0.2" transform="rotate(-90 27.70 477.40)">PGE<tspan font-size="6.4" dy="2">2</tspan><tspan dy="-2"> (pg/ml)</tspan></text>
<rect x="70.05" y="516.50" width="12.30" height="12.70" fill="#2e4c84"/>
<line x1="76.20" y1="516.50" x2="76.20" y2="514.30" stroke="#1e1e1e" stroke-width="1.3"/>
<line x1="72.70" y1="514.30" x2="79.70" y2="514.30" stroke="#1e1e1e" stroke-width="1.3"/>
<text x="79.50" y="536.50" font-size="8.3" text-anchor="end" font-weight="normal" fill="#1a1a1a" stroke="#1a1a1a" stroke-width="0.2" transform="rotate(-45 79.50 536.50)">vehicle</text>
<rect x="109.55" y="475.40" width="12.30" height="53.80" fill="#aa022b"/>
<line x1="115.70" y1="475.40" x2="115.70" y2="466.80" stroke="#1e1e1e" stroke-width="1.3"/>
<line x1="112.20" y1="466.80" x2="119.20" y2="466.80" stroke="#1e1e1e" stroke-width="1.3"/>
<text x="119.00" y="536.50" font-size="8.3" text-anchor="end" font-weight="normal" fill="#1a1a1a" stroke="#1a1a1a" stroke-width="0.2" transform="rotate(-45 119.00 536.50)">Iso 1000&#956;M</text>
<rect x="148.65" y="470.10" width="12.30" height="59.10" fill="#53226a"/>
<line x1="154.80" y1="470.10" x2="154.80" y2="445.80" stroke="#1e1e1e" stroke-width="1.3"/>
<line x1="151.30" y1="445.80" x2="158.30" y2="445.80" stroke="#1e1e1e" stroke-width="1.3"/>
<text x="158.10" y="536.50" font-size="8.3" text-anchor="end" font-weight="normal" fill="#1a1a1a" stroke="#1a1a1a" stroke-width="0.2" transform="rotate(-45 158.10 536.50)">NE 1000&#956;M</text>
<polyline points="74.30,511.20 74.30,424.60 154.60,424.60 154.60,429.70" fill="none" stroke="#0d0d0d" stroke-width="1.25" stroke-linejoin="miter"/>
<polyline points="78.50,511.50 78.50,447.70 115.80,447.70 115.80,453.50" fill="none" stroke="#0d0d0d" stroke-width="1.25" stroke-linejoin="miter"/>
<circle cx="112.55" cy="418.90" r="1.25" fill="#111"/>
<circle cx="116.65" cy="418.90" r="1.25" fill="#111"/>
<circle cx="95.50" cy="442.10" r="1.25" fill="#111"/>
<circle cx="99.60" cy="442.10" r="1.25" fill="#111"/>
<text transform="translate(191.00 411.80) scale(1 1.13)" font-size="11.2" font-weight="bold" fill="#000">D</text>
<line x1="240.00" y1="417.80" x2="240.00" y2="529.90" stroke="#0d0d0d" stroke-width="1.35"/>
<line x1="236.80" y1="529.30" x2="240.00" y2="529.30" stroke="#0d0d0d" stroke-width="1.0"/>
<text transform="translate(233.40 532.61) scale(1.0 1.1)" font-size="8.4" text-anchor="end" font-weight="normal" fill="#1a1a1a" stroke="#1a1a1a" stroke-width="0.2">0</text>
<line x1="236.80" y1="513.86" x2="240.00" y2="513.86" stroke="#0d0d0d" stroke-width="1.0"/>
<text transform="translate(233.40 517.17) scale(1.0 1.1)" font-size="8.4" text-anchor="end" font-weight="normal" fill="#1a1a1a" stroke="#1a1a1a" stroke-width="0.2">100</text>
<line x1="236.80" y1="498.41" x2="240.00" y2="498.41" stroke="#0d0d0d" stroke-width="1.0"/>
<text transform="translate(233.40 501.72) scale(1.0 1.1)" font-size="8.4" text-anchor="end" font-weight="normal" fill="#1a1a1a" stroke="#1a1a1a" stroke-width="0.2">200</text>
<line x1="236.80" y1="482.97" x2="240.00" y2="482.97" stroke="#0d0d0d" stroke-width="1.0"/>
<text transform="translate(233.40 486.28) scale(1.0 1.1)" font-size="8.4" text-anchor="end" font-weight="normal" fill="#1a1a1a" stroke="#1a1a1a" stroke-width="0.2">300</text>
<line x1="236.80" y1="467.53" x2="240.00" y2="467.53" stroke="#0d0d0d" stroke-width="1.0"/>
<text transform="translate(233.40 470.84) scale(1.0 1.1)" font-size="8.4" text-anchor="end" font-weight="normal" fill="#1a1a1a" stroke="#1a1a1a" stroke-width="0.2">400</text>
<line x1="236.80" y1="452.09" x2="240.00" y2="452.09" stroke="#0d0d0d" stroke-width="1.0"/>
<text transform="translate(233.40 455.39) scale(1.0 1.1)" font-size="8.4" text-anchor="end" font-weight="normal" fill="#1a1a1a" stroke="#1a1a1a" stroke-width="0.2">500</text>
<line x1="236.80" y1="436.64" x2="240.00" y2="436.64" stroke="#0d0d0d" stroke-width="1.0"/>
<text transform="translate(233.40 439.95) scale(1.0 1.1)" font-size="8.4" text-anchor="end" font-weight="normal" fill="#1a1a1a" stroke="#1a1a1a" stroke-width="0.2">600</text>
<line x1="236.80" y1="421.20" x2="240.00" y2="421.20" stroke="#0d0d0d" stroke-width="1.0"/>
<text transform="translate(233.40 424.51) scale(1.0 1.1)" font-size="8.4" text-anchor="end" font-weight="normal" fill="#1a1a1a" stroke="#1a1a1a" stroke-width="0.2">700</text>
<line x1="236.80" y1="529.30" x2="341.60" y2="529.30" stroke="#0d0d0d" stroke-width="1.35"/>
<text x="211.70" y="473.30" font-size="9.1" text-anchor="middle" font-weight="normal" fill="#1a1a1a" stroke="#1a1a1a" stroke-width="0.2" transform="rotate(-90 211.70 473.30)">PGE<tspan font-size="6.4" dy="2">2</tspan><tspan dy="-2"> (pg/ml)</tspan></text>
<rect x="251.70" y="505.30" width="10.60" height="24.00" fill="#2e4c84"/>
<line x1="257.00" y1="505.30" x2="257.00" y2="503.50" stroke="#1e1e1e" stroke-width="1.3"/>
<line x1="253.50" y1="503.50" x2="260.50" y2="503.50" stroke="#1e1e1e" stroke-width="1.3"/>
<rect x="285.50" y="448.80" width="10.60" height="80.50" fill="#aa022b"/>
<line x1="290.80" y1="448.80" x2="290.80" y2="439.50" stroke="#1e1e1e" stroke-width="1.3"/>
<line x1="287.30" y1="439.50" x2="294.30" y2="439.50" stroke="#1e1e1e" stroke-width="1.3"/>
<rect x="318.90" y="508.10" width="10.60" height="21.20" fill="#69a947"/>
<line x1="324.20" y1="508.10" x2="324.20" y2="505.10" stroke="#1e1e1e" stroke-width="1.3"/>
<line x1="320.70" y1="505.10" x2="327.70" y2="505.10" stroke="#1e1e1e" stroke-width="1.3"/>
<text x="260.30" y="536.60" font-size="8.3" text-anchor="end" font-weight="normal" fill="#1a1a1a" stroke="#1a1a1a" stroke-width="0.2" transform="rotate(-45 260.30 536.60)">vehicle</text>
<text x="294.10" y="536.60" font-size="8.3" text-anchor="end" font-weight="normal" fill="#1a1a1a" stroke="#1a1a1a" stroke-width="0.2" transform="rotate(-45 294.10 536.60)">Iso 1000&#956;M</text>
<text x="327.50" y="536.60" font-size="8.3" text-anchor="end" font-weight="normal" fill="#1a1a1a" stroke="#1a1a1a" stroke-width="0.2" transform="rotate(-45 327.50 536.60)">Iso 1000&#956;M+</text>
<text x="334.20" y="543.30" font-size="8.3" text-anchor="end" font-weight="normal" fill="#1a1a1a" stroke="#1a1a1a" stroke-width="0.2" transform="rotate(-45 334.20 543.30)">Indo 1&#956;M</text>
<polyline points="256.50,495.40 256.50,426.20 289.70,426.20 289.70,435.60" fill="none" stroke="#0d0d0d" stroke-width="1.25" stroke-linejoin="miter"/>
<polyline points="292.00,435.60 292.00,426.20 325.00,426.20 325.00,495.40" fill="none" stroke="#0d0d0d" stroke-width="1.25" stroke-linejoin="miter"/>
<circle cx="268.70" cy="420.90" r="1.05" fill="#111"/>
<circle cx="272.80" cy="420.90" r="1.05" fill="#111"/>
<circle cx="276.90" cy="420.90" r="1.05" fill="#111"/>
<circle cx="304.20" cy="420.90" r="1.05" fill="#111"/>
<circle cx="308.30" cy="420.90" r="1.05" fill="#111"/>
<circle cx="312.40" cy="420.90" r="1.05" fill="#111"/>
<text transform="translate(361.30 468.60) scale(1 1.13)" font-size="11.2" font-weight="bold" fill="#000">F</text>
<line x1="408.80" y1="478.20" x2="408.80" y2="601.10" stroke="#0d0d0d" stroke-width="1.35"/>
<line x1="405.60" y1="600.50" x2="408.80" y2="600.50" stroke="#0d0d0d" stroke-width="1.0"/>
<text transform="translate(402.20 603.81) scale(1.0 1.1)" font-size="8.4" text-anchor="end" font-weight="normal" fill="#1a1a1a" stroke="#1a1a1a" stroke-width="0.2">0</text>
<line x1="405.60" y1="580.70" x2="408.80" y2="580.70" stroke="#0d0d0d" stroke-width="1.0"/>
<text transform="translate(402.20 584.01) scale(1.0 1.1)" font-size="8.4" text-anchor="end" font-weight="normal" fill="#1a1a1a" stroke="#1a1a1a" stroke-width="0.2">50</text>
<line x1="405.60" y1="560.90" x2="408.80" y2="560.90" stroke="#0d0d0d" stroke-width="1.0"/>
<text transform="translate(402.20 564.21) scale(1.0 1.1)" font-size="8.4" text-anchor="end" font-weight="normal" fill="#1a1a1a" stroke="#1a1a1a" stroke-width="0.2">100</text>
<line x1="405.60" y1="541.10" x2="408.80" y2="541.10" stroke="#0d0d0d" stroke-width="1.0"/>
<text transform="translate(402.20 544.41) scale(1.0 1.1)" font-size="8.4" text-anchor="end" font-weight="normal" fill="#1a1a1a" stroke="#1a1a1a" stroke-width="0.2">150</text>
<line x1="405.60" y1="521.30" x2="408.80" y2="521.30" stroke="#0d0d0d" stroke-width="1.0"/>
<text transform="translate(402.20 524.61) scale(1.0 1.1)" font-size="8.4" text-anchor="end" font-weight="normal" fill="#1a1a1a" stroke="#1a1a1a" stroke-width="0.2">200</text>
<line x1="405.60" y1="501.50" x2="408.80" y2="501.50" stroke="#0d0d0d" stroke-width="1.0"/>
<text transform="translate(402.20 504.81) scale(1.0 1.1)" font-size="8.4" text-anchor="end" font-weight="normal" fill="#1a1a1a" stroke="#1a1a1a" stroke-width="0.2">250</text>
<line x1="405.60" y1="481.70" x2="408.80" y2="481.70" stroke="#0d0d0d" stroke-width="1.0"/>
<text transform="translate(402.20 485.01) scale(1.0 1.1)" font-size="8.4" text-anchor="end" font-weight="normal" fill="#1a1a1a" stroke="#1a1a1a" stroke-width="0.2">300</text>
<line x1="405.60" y1="600.50" x2="513.00" y2="600.50" stroke="#0d0d0d" stroke-width="1.35"/>
<text x="380.90" y="540.00" font-size="9.2" text-anchor="middle" font-weight="normal" fill="#1a1a1a" stroke="#1a1a1a" stroke-width="0.2" transform="rotate(-90 380.90 540.00)">PGE<tspan font-size="6.4" dy="2">2</tspan><tspan dy="-2">-d</tspan><tspan font-size="6.4" dy="2">11</tspan><tspan dy="-2"> synthesis (pg)</tspan></text>
<rect x="426.50" y="556.20" width="16.40" height="44.30" fill="#2e4c84"/>
<line x1="434.70" y1="556.20" x2="434.70" y2="540.60" stroke="#1e1e1e" stroke-width="1.3"/>
<line x1="431.20" y1="540.60" x2="438.20" y2="540.60" stroke="#1e1e1e" stroke-width="1.3"/>
<text x="438.00" y="607.80" font-size="8.3" text-anchor="end" font-weight="normal" fill="#1a1a1a" stroke="#1a1a1a" stroke-width="0.2" transform="rotate(-45 438.00 607.80)">vehicle</text>
<rect x="478.60" y="523.80" width="16.40" height="76.70" fill="#aa022b"/>
<line x1="486.80" y1="523.80" x2="486.80" y2="504.50" stroke="#1e1e1e" stroke-width="1.3"/>
<line x1="483.30" y1="504.50" x2="490.30" y2="504.50" stroke="#1e1e1e" stroke-width="1.3"/>
<text x="490.10" y="607.80" font-size="8.3" text-anchor="end" font-weight="normal" fill="#1a1a1a" stroke="#1a1a1a" stroke-width="0.2" transform="rotate(-45 490.10 607.80)">Iso 1000&#956;M</text>
<polyline points="434.10,534.90 434.10,482.20 486.80,482.20 486.80,500.00" fill="none" stroke="#0d0d0d" stroke-width="1.25" stroke-linejoin="miter"/>
<circle cx="460.40" cy="476.80" r="1.3" fill="#111"/>
<text transform="translate(7.60 606.40) scale(1 1.13)" font-size="11.2" font-weight="bold" fill="#000">E</text>
<ellipse cx="86.8" cy="625.3" rx="27.9" ry="13.3" fill="none" stroke="#000" stroke-width="2.6"/>
<text x="71.20" y="628.90" font-size="10.1" text-anchor="start" font-weight="normal" fill="#1a1a1a" stroke="#1a1a1a" stroke-width="0.2">AA-<tspan fill="#8e2c68" stroke="#8e2c68">d<tspan font-size="7.6" dy="2.2">11</tspan></tspan></text>
<path d="M154.4 615.2 A43.6 43.6 0 0 0 121.5 665.6" fill="none" stroke="#000" stroke-width="2.2"/>
<line x1="112.3" y1="631.0" x2="187" y2="662.0" stroke="#8e1232" stroke-width="1.3"/>
<path d="M194.2 665.2 L183.4 664.6 L186.6 657.4 Z" fill="#8e1232"/>
<text x="161.80" y="629.20" font-size="9.8" text-anchor="start" font-weight="normal" fill="#1a1a1a" stroke="#1a1a1a" stroke-width="0.2">Cox</text>
<text x="187.80" y="638.00" font-size="9.8" text-anchor="start" font-weight="normal" fill="#1a1a1a" stroke="#1a1a1a" stroke-width="0.2">PGES</text>
<path d="M161.0 629.5 C154 631.5 148.2 634.4 148.8 637.0 C149.5 639.6 160 639.6 166.3 638.0" fill="none" stroke="#000" stroke-width="1.4"/>
<path d="M170.0 636.8 L164.6 635.5 L165.6 640.3 Z" fill="#000"/>
<path d="M185.5 639.3 C179 641.3 173 644.0 173.4 646.4 C173.9 649.0 184 648.8 190.6 647.0" fill="none" stroke="#000" stroke-width="1.4"/>
<path d="M194.7 645.8 L189.2 644.5 L190.2 649.3 Z" fill="#000"/>
<rect x="203.7" y="655.1" width="65.0" height="21.3" fill="none" stroke="#111" stroke-width="1.3"/>
<text x="214.80" y="669.30" font-size="10.0" text-anchor="start" font-weight="normal" fill="#1a1a1a" stroke="#1a1a1a" stroke-width="0.2">PGE<tspan font-size="7.4" dy="2.4">2</tspan><tspan dy="-2.4">-</tspan><tspan fill="#8e2c68" stroke="#8e2c68">d<tspan font-size="7.4" dy="2.4">11</tspan></tspan></text>
<text x="90.00" y="680.00" font-size="10.0" text-anchor="start" font-weight="normal" fill="#1a1a1a" stroke="#1a1a1a" stroke-width="0.2">cell membrane</text>
<rect x="0" y="0" width="1.2" height="690" fill="#000"/>
<rect x="0" y="0" width="520" height="1.2" fill="#000"/>
<rect x="518.5" y="0" width="1.5" height="690" fill="#000"/>
<rect x="0" y="687.7" width="520" height="2.3" fill="#000"/>
</svg>
</body></html>
